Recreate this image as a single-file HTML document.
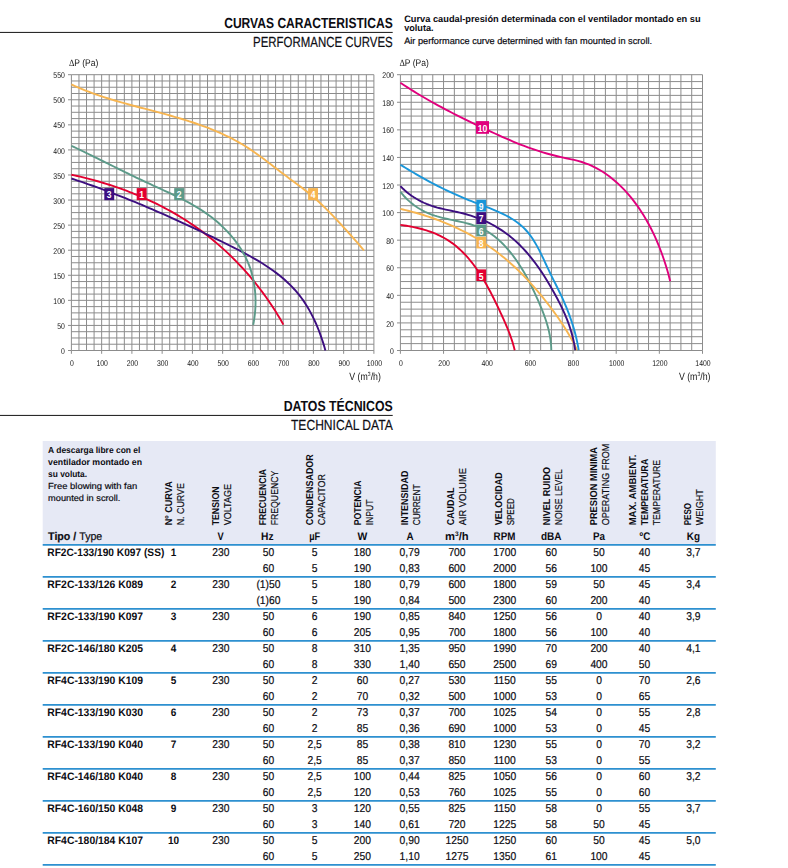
<!DOCTYPE html>
<html lang="es">
<head>
<meta charset="utf-8">
<title>Curvas caracteristicas / Datos tecnicos</title>
<style>
html,body{margin:0;padding:0;background:#fff;}
body{width:788px;height:868px;overflow:hidden;}
svg{display:block;font-family:"Liberation Sans",sans-serif;fill:#0c0c12;text-rendering:geometricPrecision;}
text{stroke:#0c0c12;stroke-width:0.2px;}
text[font-weight="bold"]{stroke:none;}
.ax{filter:grayscale(1);}
.ax text{stroke:none;fill:#141414;}
text[fill="#ffffff"]{stroke:none;}
</style>
</head>
<body>
<svg width="788" height="868" viewBox="0 0 788 868">
<text x="392.70" y="27.90" font-size="14.6" textLength="168.50" lengthAdjust="spacingAndGlyphs" text-anchor="end" font-weight="bold">CURVAS CARACTERISTICAS</text>
<rect x="0" y="31.9" width="392.7" height="1.1" fill="#2a2a2a"/>
<text x="392.70" y="47.20" font-size="14.6" textLength="139.60" lengthAdjust="spacingAndGlyphs" text-anchor="end">PERFORMANCE CURVES</text>
<text x="404.20" y="21.80" font-size="9.3" textLength="296.40" lengthAdjust="spacingAndGlyphs" font-weight="bold">Curva caudal-presión determinada con el ventilador montado en su</text>
<text x="404.20" y="30.50" font-size="9.3" textLength="29.40" lengthAdjust="spacingAndGlyphs" font-weight="bold">voluta.</text>
<text x="404.20" y="43.60" font-size="9.3" textLength="247.90" lengthAdjust="spacingAndGlyphs">Air performance curve determined with fan mounted in scroll.</text>
<g class="ax" opacity="0.999">
<path d="M71.40 74.70V350.50M78.96 74.70V350.50M86.53 74.70V350.50M94.09 74.70V350.50M101.65 74.70V350.50M109.21 74.70V350.50M116.78 74.70V350.50M124.34 74.70V350.50M131.90 74.70V350.50M139.46 74.70V350.50M147.03 74.70V350.50M154.59 74.70V350.50M162.15 74.70V350.50M169.71 74.70V350.50M177.28 74.70V350.50M184.84 74.70V350.50M192.40 74.70V350.50M199.96 74.70V350.50M207.53 74.70V350.50M215.09 74.70V350.50M222.65 74.70V350.50M230.21 74.70V350.50M237.78 74.70V350.50M245.34 74.70V350.50M252.90 74.70V350.50M260.46 74.70V350.50M268.02 74.70V350.50M275.59 74.70V350.50M283.15 74.70V350.50M290.71 74.70V350.50M298.27 74.70V350.50M305.84 74.70V350.50M313.40 74.70V350.50M320.96 74.70V350.50M328.52 74.70V350.50M336.09 74.70V350.50M343.65 74.70V350.50M351.21 74.70V350.50M358.77 74.70V350.50M366.34 74.70V350.50M373.90 74.70V350.50M71.40 74.70H373.90M71.40 80.97H373.90M71.40 87.24H373.90M71.40 93.50H373.90M71.40 99.77H373.90M71.40 106.04H373.90M71.40 112.31H373.90M71.40 118.58H373.90M71.40 124.85H373.90M71.40 131.11H373.90M71.40 137.38H373.90M71.40 143.65H373.90M71.40 149.92H373.90M71.40 156.19H373.90M71.40 162.45H373.90M71.40 168.72H373.90M71.40 174.99H373.90M71.40 181.26H373.90M71.40 187.53H373.90M71.40 193.80H373.90M71.40 200.06H373.90M71.40 206.33H373.90M71.40 212.60H373.90M71.40 218.87H373.90M71.40 225.14H373.90M71.40 231.40H373.90M71.40 237.67H373.90M71.40 243.94H373.90M71.40 250.21H373.90M71.40 256.48H373.90M71.40 262.75H373.90M71.40 269.01H373.90M71.40 275.28H373.90M71.40 281.55H373.90M71.40 287.82H373.90M71.40 294.09H373.90M71.40 300.35H373.90M71.40 306.62H373.90M71.40 312.89H373.90M71.40 319.16H373.90M71.40 325.43H373.90M71.40 331.70H373.90M71.40 337.96H373.90M71.40 344.23H373.90M71.40 350.50H373.90M71.40 350.50v3.3M101.65 350.50v3.3M131.90 350.50v3.3M162.15 350.50v3.3M192.40 350.50v3.3M222.65 350.50v3.3M252.90 350.50v3.3M283.15 350.50v3.3M313.40 350.50v3.3M343.65 350.50v3.3M373.90 350.50v3.3M71.40 74.70h-3.4M71.40 99.77h-3.4M71.40 124.85h-3.4M71.40 149.92h-3.4M71.40 174.99h-3.4M71.40 200.06h-3.4M71.40 225.14h-3.4M71.40 250.21h-3.4M71.40 275.28h-3.4M71.40 300.35h-3.4M71.40 325.43h-3.4M71.40 350.50h-3.4" stroke="#8c8c8c" stroke-width="1" fill="none"/>
<text x="71.90" y="365.90" font-size="8.4" textLength="3.83" lengthAdjust="spacingAndGlyphs" text-anchor="middle">0</text>
<text x="102.15" y="365.90" font-size="8.4" textLength="11.49" lengthAdjust="spacingAndGlyphs" text-anchor="middle">100</text>
<text x="132.40" y="365.90" font-size="8.4" textLength="11.49" lengthAdjust="spacingAndGlyphs" text-anchor="middle">200</text>
<text x="162.65" y="365.90" font-size="8.4" textLength="11.49" lengthAdjust="spacingAndGlyphs" text-anchor="middle">300</text>
<text x="192.90" y="365.90" font-size="8.4" textLength="11.49" lengthAdjust="spacingAndGlyphs" text-anchor="middle">400</text>
<text x="223.15" y="365.90" font-size="8.4" textLength="11.49" lengthAdjust="spacingAndGlyphs" text-anchor="middle">500</text>
<text x="253.40" y="365.90" font-size="8.4" textLength="11.49" lengthAdjust="spacingAndGlyphs" text-anchor="middle">600</text>
<text x="283.65" y="365.90" font-size="8.4" textLength="11.49" lengthAdjust="spacingAndGlyphs" text-anchor="middle">700</text>
<text x="313.90" y="365.90" font-size="8.4" textLength="11.49" lengthAdjust="spacingAndGlyphs" text-anchor="middle">800</text>
<text x="344.15" y="365.90" font-size="8.4" textLength="11.49" lengthAdjust="spacingAndGlyphs" text-anchor="middle">900</text>
<text x="374.40" y="365.90" font-size="8.4" textLength="15.32" lengthAdjust="spacingAndGlyphs" text-anchor="middle">1000</text>
<text x="64.80" y="354.10" font-size="8.4" textLength="3.83" lengthAdjust="spacingAndGlyphs" text-anchor="end">0</text>
<text x="64.80" y="329.03" font-size="8.4" textLength="7.66" lengthAdjust="spacingAndGlyphs" text-anchor="end">50</text>
<text x="64.80" y="303.95" font-size="8.4" textLength="11.49" lengthAdjust="spacingAndGlyphs" text-anchor="end">100</text>
<text x="64.80" y="278.88" font-size="8.4" textLength="11.49" lengthAdjust="spacingAndGlyphs" text-anchor="end">150</text>
<text x="64.80" y="253.81" font-size="8.4" textLength="11.49" lengthAdjust="spacingAndGlyphs" text-anchor="end">200</text>
<text x="64.80" y="228.74" font-size="8.4" textLength="11.49" lengthAdjust="spacingAndGlyphs" text-anchor="end">250</text>
<text x="64.80" y="203.66" font-size="8.4" textLength="11.49" lengthAdjust="spacingAndGlyphs" text-anchor="end">300</text>
<text x="64.80" y="178.59" font-size="8.4" textLength="11.49" lengthAdjust="spacingAndGlyphs" text-anchor="end">350</text>
<text x="64.80" y="153.52" font-size="8.4" textLength="11.49" lengthAdjust="spacingAndGlyphs" text-anchor="end">400</text>
<text x="64.80" y="128.45" font-size="8.4" textLength="11.49" lengthAdjust="spacingAndGlyphs" text-anchor="end">450</text>
<text x="64.80" y="103.37" font-size="8.4" textLength="11.49" lengthAdjust="spacingAndGlyphs" text-anchor="end">500</text>
<text x="64.80" y="78.30" font-size="8.4" textLength="11.49" lengthAdjust="spacingAndGlyphs" text-anchor="end">550</text>
<path d="M400.40 74.70V350.50M411.19 74.70V350.50M421.98 74.70V350.50M432.77 74.70V350.50M443.56 74.70V350.50M454.35 74.70V350.50M465.14 74.70V350.50M475.92 74.70V350.50M486.71 74.70V350.50M497.50 74.70V350.50M508.29 74.70V350.50M519.08 74.70V350.50M529.87 74.70V350.50M540.66 74.70V350.50M551.45 74.70V350.50M562.24 74.70V350.50M573.03 74.70V350.50M583.82 74.70V350.50M594.61 74.70V350.50M605.40 74.70V350.50M616.19 74.70V350.50M626.98 74.70V350.50M637.76 74.70V350.50M648.55 74.70V350.50M659.34 74.70V350.50M670.13 74.70V350.50M680.92 74.70V350.50M691.71 74.70V350.50M702.50 74.70V350.50M400.40 74.70H702.50M400.40 81.59H702.50M400.40 88.49H702.50M400.40 95.39H702.50M400.40 102.28H702.50M400.40 109.18H702.50M400.40 116.07H702.50M400.40 122.97H702.50M400.40 129.86H702.50M400.40 136.75H702.50M400.40 143.65H702.50M400.40 150.55H702.50M400.40 157.44H702.50M400.40 164.34H702.50M400.40 171.23H702.50M400.40 178.12H702.50M400.40 185.02H702.50M400.40 191.92H702.50M400.40 198.81H702.50M400.40 205.70H702.50M400.40 212.60H702.50M400.40 219.50H702.50M400.40 226.39H702.50M400.40 233.29H702.50M400.40 240.18H702.50M400.40 247.07H702.50M400.40 253.97H702.50M400.40 260.87H702.50M400.40 267.76H702.50M400.40 274.66H702.50M400.40 281.55H702.50M400.40 288.45H702.50M400.40 295.34H702.50M400.40 302.24H702.50M400.40 309.13H702.50M400.40 316.02H702.50M400.40 322.92H702.50M400.40 329.81H702.50M400.40 336.71H702.50M400.40 343.61H702.50M400.40 350.50H702.50M400.40 350.50v3.3M443.56 350.50v3.3M486.71 350.50v3.3M529.87 350.50v3.3M573.03 350.50v3.3M616.19 350.50v3.3M659.34 350.50v3.3M702.50 350.50v3.3M400.40 74.70h-3.4M400.40 102.28h-3.4M400.40 129.86h-3.4M400.40 157.44h-3.4M400.40 185.02h-3.4M400.40 212.60h-3.4M400.40 240.18h-3.4M400.40 267.76h-3.4M400.40 295.34h-3.4M400.40 322.92h-3.4M400.40 350.50h-3.4" stroke="#8c8c8c" stroke-width="1" fill="none"/>
<text x="400.90" y="365.90" font-size="8.4" textLength="3.83" lengthAdjust="spacingAndGlyphs" text-anchor="middle">0</text>
<text x="444.06" y="365.90" font-size="8.4" textLength="11.49" lengthAdjust="spacingAndGlyphs" text-anchor="middle">200</text>
<text x="487.21" y="365.90" font-size="8.4" textLength="11.49" lengthAdjust="spacingAndGlyphs" text-anchor="middle">400</text>
<text x="530.37" y="365.90" font-size="8.4" textLength="11.49" lengthAdjust="spacingAndGlyphs" text-anchor="middle">600</text>
<text x="573.53" y="365.90" font-size="8.4" textLength="11.49" lengthAdjust="spacingAndGlyphs" text-anchor="middle">800</text>
<text x="616.69" y="365.90" font-size="8.4" textLength="15.32" lengthAdjust="spacingAndGlyphs" text-anchor="middle">1000</text>
<text x="659.84" y="365.90" font-size="8.4" textLength="15.32" lengthAdjust="spacingAndGlyphs" text-anchor="middle">1200</text>
<text x="703.00" y="365.90" font-size="8.4" textLength="15.32" lengthAdjust="spacingAndGlyphs" text-anchor="middle">1400</text>
<text x="393.80" y="354.10" font-size="8.4" textLength="3.83" lengthAdjust="spacingAndGlyphs" text-anchor="end">0</text>
<text x="393.80" y="326.52" font-size="8.4" textLength="7.66" lengthAdjust="spacingAndGlyphs" text-anchor="end">20</text>
<text x="393.80" y="298.94" font-size="8.4" textLength="7.66" lengthAdjust="spacingAndGlyphs" text-anchor="end">40</text>
<text x="393.80" y="271.36" font-size="8.4" textLength="7.66" lengthAdjust="spacingAndGlyphs" text-anchor="end">60</text>
<text x="393.80" y="243.78" font-size="8.4" textLength="7.66" lengthAdjust="spacingAndGlyphs" text-anchor="end">80</text>
<text x="393.80" y="216.20" font-size="8.4" textLength="11.49" lengthAdjust="spacingAndGlyphs" text-anchor="end">100</text>
<text x="393.80" y="188.62" font-size="8.4" textLength="11.49" lengthAdjust="spacingAndGlyphs" text-anchor="end">120</text>
<text x="393.80" y="161.04" font-size="8.4" textLength="11.49" lengthAdjust="spacingAndGlyphs" text-anchor="end">140</text>
<text x="393.80" y="133.46" font-size="8.4" textLength="11.49" lengthAdjust="spacingAndGlyphs" text-anchor="end">160</text>
<text x="393.80" y="105.88" font-size="8.4" textLength="11.49" lengthAdjust="spacingAndGlyphs" text-anchor="end">180</text>
<text x="393.80" y="78.30" font-size="8.4" textLength="11.49" lengthAdjust="spacingAndGlyphs" text-anchor="end">200</text>
<text x="68.90" y="65.8" font-size="9.6" textLength="29.4" lengthAdjust="spacingAndGlyphs"><tspan font-family="Liberation Serif, serif">Δ</tspan>P (Pa)</text>
<text x="399.40" y="65.8" font-size="9.6" textLength="29.4" lengthAdjust="spacingAndGlyphs"><tspan font-family="Liberation Serif, serif">Δ</tspan>P (Pa)</text>
<text x="349.30" y="379.8" font-size="10.4" textLength="31.6" lengthAdjust="spacingAndGlyphs">V (m<tspan font-size="6" dy="-3.8">3</tspan><tspan dy="3.8">/h)</tspan></text>
<text x="678.90" y="379.8" font-size="10.4" textLength="31.6" lengthAdjust="spacingAndGlyphs">V (m<tspan font-size="6" dy="-3.8">3</tspan><tspan dy="3.8">/h)</tspan></text>
</g>
<path d="M71.40 174.70L74.33 175.34 77.26 176.00 80.18 176.69 83.10 177.39 86.02 178.12 88.93 178.87 91.84 179.65 94.75 180.44 97.65 181.26 100.55 182.11 103.44 182.97 106.32 183.86 109.20 184.77 112.07 185.71 114.93 186.66 117.79 187.65 120.64 188.65 123.48 189.68 126.31 190.73 129.13 191.81 131.94 192.91 134.74 194.04 137.54 195.19 140.32 196.36 143.09 197.56 145.85 198.78 148.60 200.03 151.33 201.31 154.05 202.60 156.76 203.93 159.46 205.27 162.14 206.65 164.81 208.05 167.46 209.47 170.10 210.92 172.72 212.40 175.33 213.90 177.92 215.42 180.50 216.98 183.06 218.56 185.60 220.16 188.12 221.79 190.63 223.45 193.11 225.13 195.58 226.85 198.03 228.58 200.46 230.34 202.87 232.13 205.27 233.95 207.64 235.79 209.99 237.65 212.33 239.54 214.64 241.45 216.94 243.39 219.21 245.35 221.46 247.34 223.70 249.34 225.91 251.38 228.10 253.43 230.27 255.51 232.42 257.61 234.55 259.73 236.66 261.88 238.74 264.04 240.80 266.23 242.85 268.44 244.87 270.67 246.86 272.92 248.84 275.19 250.79 277.49 252.72 279.80 254.63 282.13 256.51 284.48 258.37 286.86 260.21 289.25 262.02 291.66 263.81 294.09 265.58 296.53 267.32 299.00 269.04 301.48 270.73 303.99 272.40 306.51 274.05 309.04 275.67 311.60 277.26 314.17 278.83 316.75 280.38 319.36 281.90 321.98 283.39 324.61" stroke="#e30030" stroke-width="1.9" fill="none"/>
<path d="M71.40 178.48L74.83 179.62 78.26 180.78 81.67 181.94 85.08 183.12 88.48 184.31 91.88 185.51 95.26 186.73 98.64 187.96 102.01 189.20 105.38 190.45 108.74 191.71 112.09 192.99 115.43 194.27 118.77 195.57 122.11 196.88 125.43 198.21 128.75 199.54 132.07 200.88 135.38 202.24 138.69 203.60 141.99 204.98 145.29 206.37 148.58 207.76 151.87 209.17 155.16 210.59 158.44 212.02 161.72 213.45 164.99 214.90 168.26 216.36 171.53 217.83 174.80 219.30 178.06 220.79 181.32 222.28 184.58 223.79 187.84 225.30 191.09 226.82 194.34 228.35 197.60 229.89 200.85 231.44 204.10 232.99 207.35 234.56 210.59 236.13 213.84 237.71 217.09 239.30 220.34 240.89 223.58 242.50 226.83 244.11 230.08 245.73 233.32 247.36 236.56 249.00 239.78 250.66 242.99 252.35 246.19 254.05 249.36 255.79 252.52 257.55 255.64 259.35 258.74 261.18 261.80 263.06 264.82 264.97 267.80 266.93 270.75 268.94 273.64 271.00 276.48 273.12 279.28 275.29 282.01 277.53 284.69 279.83 287.30 282.20 289.84 284.63 292.32 287.14 294.73 289.73 297.05 292.40 299.30 295.15 301.47 297.98 303.55 300.91 305.54 303.91 307.45 306.99 309.28 310.14 311.03 313.34 312.71 316.60 314.30 319.90 315.82 323.24 317.26 326.61 318.63 330.00 319.93 333.41 321.15 336.82 322.31 340.24 323.40 343.64 324.43 347.04 325.39 350.40" stroke="#3d0f80" stroke-width="1.9" fill="none"/>
<path d="M71.40 145.79L74.26 147.15 77.12 148.51 79.96 149.88 82.80 151.25 85.64 152.63 88.46 154.01 91.28 155.39 94.10 156.78 96.91 158.17 99.72 159.56 102.52 160.95 105.32 162.34 108.13 163.73 110.93 165.12 113.73 166.51 116.53 167.90 119.33 169.29 122.14 170.67 124.94 172.05 127.75 173.43 130.56 174.80 133.38 176.17 136.21 177.53 139.03 178.89 141.87 180.23 144.71 181.57 147.56 182.91 150.42 184.23 153.28 185.55 156.15 186.86 159.03 188.18 161.90 189.49 164.77 190.81 167.64 192.14 170.51 193.48 173.36 194.84 176.21 196.21 179.05 197.60 181.87 199.02 184.67 200.47 187.46 201.94 190.22 203.45 192.96 205.00 195.68 206.58 198.37 208.21 201.03 209.88 203.66 211.61 206.25 213.38 208.81 215.21 211.33 217.10 213.81 219.04 216.24 221.03 218.63 223.08 220.97 225.19 223.25 227.34 225.48 229.55 227.65 231.81 229.76 234.13 231.80 236.49 233.78 238.90 235.69 241.37 237.53 243.88 239.29 246.44 240.97 249.05 242.57 251.71 244.09 254.42 245.52 257.17 246.86 259.97 248.10 262.81 249.26 265.70 250.31 268.64 251.27 271.62 252.12 274.63 252.88 277.68 253.54 280.77 254.10 283.88 254.57 287.01 254.95 290.16 255.23 293.32 255.42 296.50 255.52 299.67 255.53 302.86 255.46 306.03 255.29 309.20 255.04 312.36 254.70 315.51 254.28 318.63 253.78 321.73 253.19 324.81" stroke="#5c9a89" stroke-width="1.9" fill="none"/>
<path d="M71.40 84.39L74.94 86.02 78.49 87.59 82.06 89.09 85.65 90.54 89.26 91.94 92.88 93.28 96.51 94.58 100.16 95.84 103.82 97.05 107.49 98.23 111.17 99.38 114.86 100.49 118.56 101.58 122.27 102.64 125.99 103.68 129.71 104.71 133.44 105.72 137.17 106.72 140.90 107.71 144.64 108.69 148.38 109.68 152.12 110.67 155.86 111.66 159.60 112.66 163.33 113.67 167.07 114.70 170.80 115.74 174.52 116.81 178.24 117.89 181.94 119.00 185.64 120.14 189.32 121.31 192.99 122.52 196.65 123.76 200.29 125.04 203.91 126.35 207.52 127.72 211.10 129.12 214.66 130.58 218.19 132.09 221.70 133.65 225.18 135.27 228.64 136.95 232.06 138.69 235.45 140.49 238.81 142.36 242.14 144.30 245.43 146.31 248.68 148.40 251.90 150.54 255.10 152.74 258.26 154.98 261.41 157.27 264.54 159.59 267.65 161.93 270.75 164.29 273.84 166.66 276.93 169.04 280.01 171.41 283.09 173.77 286.18 176.11 289.27 178.43 292.38 180.72 295.48 182.99 298.58 185.26 301.65 187.55 304.70 189.87 307.71 192.24 310.67 194.67 313.59 197.16 316.47 199.71 319.31 202.31 322.12 204.95 324.90 207.64 327.64 210.37 330.36 213.13 333.05 215.92 335.72 218.74 338.37 221.57 341.00 224.43 343.62 227.30 346.22 230.18 348.81 233.06 351.38 235.95 353.95 238.84 356.50 241.73 359.03 244.63 361.53 247.55 364.00 250.50" stroke="#f7b550" stroke-width="1.9" fill="none"/>
<path d="M400.40 82.80L403.73 84.99 407.07 87.16 410.44 89.29 413.82 91.39 417.21 93.47 420.62 95.51 424.05 97.52 427.49 99.51 430.94 101.47 434.41 103.41 437.89 105.32 441.38 107.21 444.88 109.08 448.40 110.93 451.93 112.75 455.46 114.56 459.01 116.35 462.57 118.13 466.13 119.88 469.70 121.63 473.28 123.35 476.87 125.07 480.47 126.78 484.07 128.47 487.67 130.15 491.29 131.83 494.90 133.49 498.53 135.14 502.16 136.77 505.80 138.38 509.45 139.96 513.11 141.52 516.78 143.03 520.47 144.51 524.16 145.95 527.88 147.33 531.61 148.67 535.36 149.96 539.12 151.18 542.91 152.35 546.72 153.47 550.55 154.53 554.41 155.54 558.30 156.49 562.21 157.39 566.16 158.24 570.12 159.07 574.07 159.94 577.98 160.90 581.81 162.01 585.56 163.29 589.23 164.74 592.82 166.34 596.32 168.10 599.74 170.00 603.07 172.04 606.33 174.21 609.50 176.51 612.59 178.93 615.60 181.46 618.53 184.10 621.38 186.84 624.15 189.68 626.84 192.60 629.44 195.61 631.97 198.69 634.42 201.85 636.79 205.07 639.08 208.34 641.30 211.67 643.43 215.05 645.49 218.48 647.48 221.95 649.40 225.46 651.24 229.01 653.01 232.60 654.71 236.22 656.35 239.87 657.92 243.54 659.42 247.24 660.86 250.97 662.24 254.71 663.55 258.47 664.80 262.24 666.00 266.02 667.14 269.81 668.22 273.60 669.24 277.40 670.21 281.19" stroke="#e0007d" stroke-width="1.9" fill="none"/>
<path d="M400.40 224.91L402.41 225.18 404.43 225.47 406.45 225.79 408.48 226.13 410.50 226.49 412.52 226.89 414.53 227.31 416.54 227.75 418.55 228.23 420.54 228.74 422.53 229.27 424.51 229.84 426.47 230.44 428.42 231.08 430.35 231.75 432.27 232.46 434.17 233.20 436.05 233.99 437.91 234.81 439.74 235.67 441.56 236.57 443.34 237.52 445.10 238.50 446.83 239.53 448.53 240.61 450.20 241.72 451.85 242.88 453.46 244.08 455.05 245.32 456.60 246.59 458.13 247.91 459.63 249.25 461.11 250.63 462.56 252.04 463.98 253.48 465.37 254.94 466.74 256.44 468.08 257.96 469.40 259.50 470.70 261.07 471.97 262.65 473.21 264.26 474.43 265.89 475.63 267.53 476.81 269.19 477.97 270.87 479.10 272.57 480.22 274.28 481.32 276.00 482.40 277.74 483.46 279.49 484.50 281.26 485.53 283.03 486.54 284.82 487.54 286.61 488.53 288.42 489.50 290.23 490.46 292.05 491.40 293.87 492.34 295.71 493.26 297.54 494.18 299.38 495.08 301.23 495.98 303.08 496.87 304.92 497.76 306.77 498.63 308.62 499.50 310.47 500.37 312.32 501.23 314.17 502.09 316.01 502.93 317.86 503.77 319.71 504.59 321.56 505.40 323.41 506.20 325.27 506.99 327.13 507.75 329.00 508.50 330.88 509.23 332.76 509.94 334.65 510.63 336.56 511.29 338.47 511.93 340.39 512.54 342.32 513.13 344.27 513.69 346.23 514.21 348.21 514.71 350.20" stroke="#e30030" stroke-width="1.9" fill="none"/>
<path d="M400.40 191.79L402.14 193.94 403.95 196.00 405.81 197.97 407.74 199.85 409.72 201.64 411.75 203.35 413.84 204.97 415.98 206.50 418.17 207.94 420.41 209.30 422.70 210.57 425.03 211.76 427.40 212.86 429.82 213.88 432.27 214.82 434.77 215.68 437.29 216.46 439.84 217.17 442.42 217.83 445.02 218.45 447.64 219.04 450.26 219.60 452.90 220.15 455.53 220.70 458.17 221.25 460.79 221.83 463.41 222.44 466.00 223.08 468.58 223.78 471.13 224.52 473.66 225.33 476.15 226.20 478.60 227.15 481.01 228.18 483.37 229.29 485.68 230.50 487.94 231.81 490.13 233.21 492.28 234.70 494.37 236.28 496.41 237.93 498.40 239.65 500.34 241.44 502.23 243.28 504.08 245.16 505.88 247.09 507.64 249.07 509.36 251.08 511.04 253.13 512.67 255.22 514.27 257.35 515.83 259.51 517.36 261.70 518.84 263.92 520.30 266.17 521.72 268.44 523.11 270.73 524.46 273.05 525.79 275.39 527.09 277.75 528.36 280.12 529.60 282.51 530.82 284.91 532.01 287.32 533.18 289.74 534.32 292.17 535.45 294.60 536.55 297.04 537.64 299.47 538.71 301.91 539.75 304.34 540.78 306.78 541.78 309.22 542.75 311.66 543.69 314.11 544.59 316.57 545.45 319.04 546.27 321.52 547.03 324.01 547.75 326.53 548.41 329.06 549.02 331.61 549.56 334.18 550.04 336.78 550.44 339.40 550.78 342.06 551.03 344.74 551.21 347.45 551.30 350.20" stroke="#5c9a89" stroke-width="1.9" fill="none"/>
<path d="M400.40 208.90L402.97 209.49 405.53 210.10 408.09 210.73 410.64 211.39 413.19 212.07 415.73 212.77 418.27 213.50 420.79 214.25 423.32 215.03 425.83 215.83 428.34 216.65 430.84 217.50 433.33 218.37 435.81 219.26 438.28 220.18 440.74 221.13 443.20 222.10 445.64 223.09 448.07 224.11 450.49 225.15 452.90 226.22 455.29 227.31 457.68 228.43 460.05 229.57 462.41 230.74 464.75 231.94 467.08 233.15 469.40 234.40 471.70 235.67 473.99 236.96 476.26 238.28 478.51 239.63 480.75 241.00 482.97 242.40 485.18 243.82 487.37 245.27 489.54 246.74 491.69 248.24 493.82 249.77 495.94 251.33 498.03 252.91 500.11 254.51 502.16 256.15 504.20 257.80 506.22 259.49 508.22 261.19 510.20 262.92 512.16 264.68 514.10 266.45 516.03 268.25 517.93 270.07 519.82 271.90 521.69 273.76 523.54 275.64 525.38 277.54 527.20 279.45 529.00 281.39 530.78 283.34 532.55 285.30 534.30 287.28 536.03 289.28 537.75 291.29 539.45 293.32 541.14 295.36 542.81 297.41 544.46 299.47 546.10 301.55 547.72 303.63 549.33 305.73 550.93 307.84 552.51 309.95 554.07 312.08 555.61 314.22 557.13 316.37 558.64 318.54 560.12 320.71 561.59 322.90 563.03 325.10 564.45 327.31 565.84 329.53 567.21 331.77 568.56 334.02 569.88 336.29 571.17 338.57 572.44 340.86 573.68 343.17 574.89 345.50 576.07 347.84 577.21 350.19" stroke="#f7b550" stroke-width="1.9" fill="none"/>
<path d="M400.40 186.19L402.51 188.29 404.68 190.29 406.90 192.19 409.18 193.99 411.51 195.69 413.90 197.30 416.33 198.80 418.80 200.21 421.33 201.53 423.89 202.76 426.49 203.89 429.14 204.94 431.81 205.89 434.53 206.76 437.27 207.55 440.04 208.28 442.83 208.95 445.64 209.58 448.46 210.19 451.29 210.78 454.12 211.37 456.95 211.98 459.77 212.61 462.59 213.29 465.38 214.02 468.16 214.80 470.92 215.65 473.65 216.55 476.36 217.52 479.05 218.54 481.71 219.62 484.35 220.76 486.95 221.96 489.52 223.22 492.06 224.53 494.57 225.91 497.04 227.34 499.47 228.83 501.87 230.37 504.22 231.98 506.53 233.64 508.80 235.36 511.02 237.14 513.20 238.98 515.34 240.86 517.44 242.80 519.50 244.78 521.51 246.81 523.49 248.88 525.43 251.00 527.34 253.16 529.20 255.35 531.03 257.59 532.83 259.85 534.59 262.15 536.32 264.47 538.02 266.83 539.68 269.21 541.32 271.61 542.92 274.04 544.50 276.49 546.05 278.95 547.57 281.43 549.06 283.92 550.53 286.42 551.97 288.94 553.39 291.46 554.79 293.98 556.16 296.51 557.51 299.05 558.83 301.59 560.12 304.14 561.37 306.70 562.60 309.27 563.78 311.85 564.93 314.45 566.03 317.06 567.10 319.69 568.11 322.34 569.08 325.01 569.99 327.70 570.85 330.42 571.66 333.16 572.41 335.92 573.10 338.72 573.72 341.54 574.28 344.39 574.78 347.28 575.20 350.20" stroke="#3d0f80" stroke-width="1.9" fill="none"/>
<path d="M400.40 164.70L403.07 166.35 405.74 167.99 408.41 169.60 411.08 171.20 413.75 172.77 416.41 174.33 419.08 175.86 421.75 177.38 424.43 178.87 427.11 180.35 429.79 181.80 432.49 183.24 435.19 184.65 437.90 186.05 440.61 187.42 443.34 188.77 446.09 190.11 448.84 191.42 451.61 192.71 454.39 193.98 457.19 195.24 460.01 196.47 462.84 197.68 465.70 198.87 468.57 200.04 471.47 201.19 474.38 202.32 477.31 203.44 480.25 204.55 483.19 205.67 486.13 206.79 489.06 207.93 491.97 209.09 494.85 210.28 497.71 211.51 500.53 212.78 503.31 214.11 506.04 215.49 508.71 216.94 511.33 218.46 513.87 220.06 516.34 221.75 518.73 223.53 521.03 225.42 523.24 227.41 525.35 229.52 527.35 231.74 529.25 234.08 531.07 236.52 532.80 239.05 534.46 241.67 536.04 244.35 537.57 247.09 539.05 249.89 540.49 252.72 541.88 255.58 543.26 258.46 544.61 261.35 545.95 264.23 547.29 267.10 548.63 269.95 549.98 272.76 551.34 275.55 552.70 278.31 554.06 281.06 555.43 283.79 556.78 286.51 558.12 289.24 559.45 291.96 560.76 294.70 562.05 297.45 563.31 300.21 564.54 303.01 565.74 305.82 566.90 308.66 568.03 311.53 569.12 314.41 570.17 317.31 571.18 320.24 572.15 323.18 573.08 326.13 573.96 329.10 574.79 332.09 575.57 335.08 576.31 338.09 576.99 341.11 577.61 344.13 578.18 347.16 578.70 350.20" stroke="#1a96d9" stroke-width="1.9" fill="none"/>
<rect x="104.30" y="188.10" width="9.90" height="12.10" fill="#3d0f80"/>
<text x="109.25" y="198.45" font-size="10.2" textLength="4.77" lengthAdjust="spacingAndGlyphs" text-anchor="middle" font-weight="bold" fill="#ffffff">3</text>
<rect x="136.70" y="188.10" width="9.90" height="12.10" fill="#e30030"/>
<text x="141.65" y="198.45" font-size="10.2" textLength="4.77" lengthAdjust="spacingAndGlyphs" text-anchor="middle" font-weight="bold" fill="#ffffff">1</text>
<rect x="174.20" y="188.10" width="9.90" height="12.10" fill="#5c9a89"/>
<text x="179.15" y="198.45" font-size="10.2" textLength="4.77" lengthAdjust="spacingAndGlyphs" text-anchor="middle" font-weight="bold" fill="#ffffff">2</text>
<rect x="308.10" y="188.10" width="9.90" height="12.10" fill="#f7b550"/>
<text x="313.05" y="198.45" font-size="10.2" textLength="4.77" lengthAdjust="spacingAndGlyphs" text-anchor="middle" font-weight="bold" fill="#ffffff">4</text>
<rect x="476.00" y="121.10" width="13.00" height="12.70" fill="#e0007d"/>
<text x="482.50" y="131.75" font-size="10.2" textLength="9.53" lengthAdjust="spacingAndGlyphs" text-anchor="middle" font-weight="bold" fill="#ffffff">10</text>
<rect x="476.30" y="199.70" width="9.80" height="11.90" fill="#1a96d9"/>
<text x="481.20" y="209.95" font-size="10.2" textLength="4.77" lengthAdjust="spacingAndGlyphs" text-anchor="middle" font-weight="bold" fill="#ffffff">9</text>
<rect x="476.30" y="212.20" width="9.80" height="11.90" fill="#3d0f80"/>
<text x="481.20" y="222.45" font-size="10.2" textLength="4.77" lengthAdjust="spacingAndGlyphs" text-anchor="middle" font-weight="bold" fill="#ffffff">7</text>
<rect x="476.30" y="224.50" width="9.80" height="11.90" fill="#5c9a89"/>
<text x="481.20" y="234.75" font-size="10.2" textLength="4.77" lengthAdjust="spacingAndGlyphs" text-anchor="middle" font-weight="bold" fill="#ffffff">6</text>
<rect x="476.30" y="236.80" width="9.80" height="11.60" fill="#f7b550"/>
<text x="481.20" y="246.90" font-size="10.2" textLength="4.77" lengthAdjust="spacingAndGlyphs" text-anchor="middle" font-weight="bold" fill="#ffffff">8</text>
<rect x="476.30" y="269.40" width="9.80" height="11.60" fill="#e30030"/>
<text x="481.20" y="279.50" font-size="10.2" textLength="4.77" lengthAdjust="spacingAndGlyphs" text-anchor="middle" font-weight="bold" fill="#ffffff">5</text>
<text x="392.70" y="411.10" font-size="14.6" textLength="109.00" lengthAdjust="spacingAndGlyphs" text-anchor="end" font-weight="bold">DATOS TÉCNICOS</text>
<rect x="0" y="414.9" width="392.7" height="1.1" fill="#2a2a2a"/>
<text x="392.70" y="430.20" font-size="14.6" textLength="101.70" lengthAdjust="spacingAndGlyphs" text-anchor="end">TECHNICAL DATA</text>
<rect x="42.7" y="441" width="673.10" height="103.5" fill="#e6e9f5"/>
<text x="48.10" y="453.20" font-size="8.8" textLength="92.30" lengthAdjust="spacingAndGlyphs" font-weight="bold">A descarga libre con el</text>
<text x="48.10" y="464.90" font-size="8.8" textLength="93.90" lengthAdjust="spacingAndGlyphs" font-weight="bold">ventilador montado en</text>
<text x="48.10" y="476.60" font-size="8.8" textLength="39.00" lengthAdjust="spacingAndGlyphs" font-weight="bold">su voluta.</text>
<text x="48.10" y="489.00" font-size="8.8" textLength="89.10" lengthAdjust="spacingAndGlyphs">Free blowing with fan</text>
<text x="48.10" y="500.60" font-size="8.8" textLength="72.30" lengthAdjust="spacingAndGlyphs">mounted in scroll.</text>
<text x="48.1" y="539.6" font-size="11.1" textLength="54.2" lengthAdjust="spacingAndGlyphs"><tspan font-weight="bold">Tipo / </tspan>Type</text>
<text transform="translate(171.70 525.30) rotate(-90)" font-size="10" textLength="44.10" lengthAdjust="spacingAndGlyphs" font-weight="bold">Nº CURVA</text>
<text transform="translate(184.10 525.30) rotate(-90)" font-size="10" textLength="42.10" lengthAdjust="spacingAndGlyphs">N. CURVE</text>
<text transform="translate(219.30 525.30) rotate(-90)" font-size="10" textLength="38.80" lengthAdjust="spacingAndGlyphs" font-weight="bold">TENSION</text>
<text transform="translate(231.40 525.30) rotate(-90)" font-size="10" textLength="41.20" lengthAdjust="spacingAndGlyphs">VOLTAGE</text>
<text transform="translate(265.80 525.30) rotate(-90)" font-size="10" textLength="56.30" lengthAdjust="spacingAndGlyphs" font-weight="bold">FRECUENCIA</text>
<text transform="translate(277.60 525.30) rotate(-90)" font-size="10" textLength="54.60" lengthAdjust="spacingAndGlyphs">FREQUENCY</text>
<text transform="translate(312.70 525.30) rotate(-90)" font-size="10" textLength="71.10" lengthAdjust="spacingAndGlyphs" font-weight="bold">CONDENSADOR</text>
<text transform="translate(324.60 525.30) rotate(-90)" font-size="10" textLength="51.20" lengthAdjust="spacingAndGlyphs">CAPACITOR</text>
<text transform="translate(361.10 525.30) rotate(-90)" font-size="10" textLength="44.80" lengthAdjust="spacingAndGlyphs" font-weight="bold">POTENCIA</text>
<text transform="translate(373.00 525.30) rotate(-90)" font-size="10" textLength="25.80" lengthAdjust="spacingAndGlyphs">INPUT</text>
<text transform="translate(407.80 525.30) rotate(-90)" font-size="10" textLength="54.70" lengthAdjust="spacingAndGlyphs" font-weight="bold">INTENSIDAD</text>
<text transform="translate(419.70 525.30) rotate(-90)" font-size="10" textLength="40.90" lengthAdjust="spacingAndGlyphs">CURRENT</text>
<text transform="translate(454.00 525.30) rotate(-90)" font-size="10" textLength="37.70" lengthAdjust="spacingAndGlyphs" font-weight="bold">CAUDAL</text>
<text transform="translate(466.40 525.30) rotate(-90)" font-size="10" textLength="57.20" lengthAdjust="spacingAndGlyphs">AIR VOLUME</text>
<text transform="translate(502.30 525.30) rotate(-90)" font-size="10" textLength="53.00" lengthAdjust="spacingAndGlyphs" font-weight="bold">VELOCIDAD</text>
<text transform="translate(514.40 525.30) rotate(-90)" font-size="10" textLength="27.00" lengthAdjust="spacingAndGlyphs">SPEED</text>
<text transform="translate(549.90 525.30) rotate(-90)" font-size="10" textLength="58.30" lengthAdjust="spacingAndGlyphs" font-weight="bold">NIVEL RUIDO</text>
<text transform="translate(562.00 525.30) rotate(-90)" font-size="10" textLength="56.00" lengthAdjust="spacingAndGlyphs">NOISE LEVEL</text>
<text transform="translate(596.80 525.30) rotate(-90)" font-size="10" textLength="78.20" lengthAdjust="spacingAndGlyphs" font-weight="bold">PRESION MINIMA</text>
<text transform="translate(609.00 525.30) rotate(-90)" font-size="10" textLength="81.60" lengthAdjust="spacingAndGlyphs">OPERATING FROM</text>
<text transform="translate(636.40 525.30) rotate(-90)" font-size="10" textLength="70.70" lengthAdjust="spacingAndGlyphs" font-weight="bold">MAX. AMBIENT.</text>
<text transform="translate(648.20 525.30) rotate(-90)" font-size="10" textLength="66.60" lengthAdjust="spacingAndGlyphs" font-weight="bold">TEMPERATURA</text>
<text transform="translate(660.40 525.30) rotate(-90)" font-size="10" textLength="65.40" lengthAdjust="spacingAndGlyphs">TEMPERATURE</text>
<text transform="translate(690.80 525.30) rotate(-90)" font-size="10" textLength="22.40" lengthAdjust="spacingAndGlyphs" font-weight="bold">PESO</text>
<text transform="translate(703.40 525.30) rotate(-90)" font-size="10" textLength="36.00" lengthAdjust="spacingAndGlyphs">WEIGHT</text>
<text x="217.50" y="539.60" font-size="11.1" textLength="6.20" lengthAdjust="spacingAndGlyphs" font-weight="bold">V</text>
<text x="261.00" y="539.60" font-size="11.1" textLength="12.50" lengthAdjust="spacingAndGlyphs" font-weight="bold">Hz</text>
<text x="309.20" y="539.60" font-size="11.1" textLength="11.00" lengthAdjust="spacingAndGlyphs" font-weight="bold">µF</text>
<text x="357.50" y="539.60" font-size="11.1" textLength="9.80" lengthAdjust="spacingAndGlyphs" font-weight="bold">W</text>
<text x="406.40" y="539.60" font-size="11.1" textLength="7.10" lengthAdjust="spacingAndGlyphs" font-weight="bold">A</text>
<text x="493.60" y="539.60" font-size="11.1" textLength="21.70" lengthAdjust="spacingAndGlyphs" font-weight="bold">RPM</text>
<text x="541.00" y="539.60" font-size="11.1" textLength="20.50" lengthAdjust="spacingAndGlyphs" font-weight="bold">dBA</text>
<text x="592.90" y="539.60" font-size="11.1" textLength="12.00" lengthAdjust="spacingAndGlyphs" font-weight="bold">Pa</text>
<text x="639.60" y="539.60" font-size="11.1" textLength="10.60" lengthAdjust="spacingAndGlyphs" font-weight="bold">ºC</text>
<text x="686.80" y="539.60" font-size="11.1" textLength="13.20" lengthAdjust="spacingAndGlyphs" font-weight="bold">Kg</text>
<text x="445.1" y="539.6" font-size="11.1" font-weight="bold" textLength="23.6" lengthAdjust="spacingAndGlyphs">m<tspan font-size="6.5" dy="-3.6">3</tspan><tspan dy="3.6">/h</tspan></text>
<text x="47.30" y="555.90" font-size="10.9" textLength="117.01" lengthAdjust="spacingAndGlyphs" font-weight="bold">RF2C-133/190 K097 (SS)</text>
<text x="173.60" y="555.90" font-size="10.9" textLength="5.58" lengthAdjust="spacingAndGlyphs" text-anchor="middle" font-weight="bold">1</text>
<text x="220.80" y="555.90" font-size="11.4" textLength="17.19" lengthAdjust="spacingAndGlyphs" text-anchor="middle">230</text>
<text x="268.40" y="555.90" font-size="11.4" textLength="11.46" lengthAdjust="spacingAndGlyphs" text-anchor="middle">50</text>
<text x="268.40" y="571.90" font-size="11.4" textLength="11.46" lengthAdjust="spacingAndGlyphs" text-anchor="middle">60</text>
<text x="314.60" y="555.90" font-size="11.4" textLength="5.73" lengthAdjust="spacingAndGlyphs" text-anchor="middle">5</text>
<text x="314.60" y="571.90" font-size="11.4" textLength="5.73" lengthAdjust="spacingAndGlyphs" text-anchor="middle">5</text>
<text x="362.40" y="555.90" font-size="11.4" textLength="17.19" lengthAdjust="spacingAndGlyphs" text-anchor="middle">180</text>
<text x="362.40" y="571.90" font-size="11.4" textLength="17.19" lengthAdjust="spacingAndGlyphs" text-anchor="middle">190</text>
<text x="409.60" y="555.90" font-size="11.4" textLength="20.05" lengthAdjust="spacingAndGlyphs" text-anchor="middle">0,79</text>
<text x="409.60" y="571.90" font-size="11.4" textLength="20.05" lengthAdjust="spacingAndGlyphs" text-anchor="middle">0,83</text>
<text x="457.00" y="555.90" font-size="11.4" textLength="17.19" lengthAdjust="spacingAndGlyphs" text-anchor="middle">700</text>
<text x="457.00" y="571.90" font-size="11.4" textLength="17.19" lengthAdjust="spacingAndGlyphs" text-anchor="middle">600</text>
<text x="504.70" y="555.90" font-size="11.4" textLength="22.91" lengthAdjust="spacingAndGlyphs" text-anchor="middle">1700</text>
<text x="504.70" y="571.90" font-size="11.4" textLength="22.91" lengthAdjust="spacingAndGlyphs" text-anchor="middle">2000</text>
<text x="551.30" y="555.90" font-size="11.4" textLength="11.46" lengthAdjust="spacingAndGlyphs" text-anchor="middle">60</text>
<text x="551.30" y="571.90" font-size="11.4" textLength="11.46" lengthAdjust="spacingAndGlyphs" text-anchor="middle">56</text>
<text x="599.00" y="555.90" font-size="11.4" textLength="11.46" lengthAdjust="spacingAndGlyphs" text-anchor="middle">50</text>
<text x="599.00" y="571.90" font-size="11.4" textLength="17.19" lengthAdjust="spacingAndGlyphs" text-anchor="middle">100</text>
<text x="644.50" y="555.90" font-size="11.4" textLength="11.46" lengthAdjust="spacingAndGlyphs" text-anchor="middle">40</text>
<text x="644.50" y="571.90" font-size="11.4" textLength="11.46" lengthAdjust="spacingAndGlyphs" text-anchor="middle">45</text>
<text x="693.40" y="555.90" font-size="11.4" textLength="14.32" lengthAdjust="spacingAndGlyphs" text-anchor="middle">3,7</text>
<text x="47.30" y="587.90" font-size="10.9" textLength="95.72" lengthAdjust="spacingAndGlyphs" font-weight="bold">RF2C-133/126 K089</text>
<text x="173.60" y="587.90" font-size="10.9" textLength="5.58" lengthAdjust="spacingAndGlyphs" text-anchor="middle" font-weight="bold">2</text>
<text x="220.80" y="587.90" font-size="11.4" textLength="17.19" lengthAdjust="spacingAndGlyphs" text-anchor="middle">230</text>
<text x="268.40" y="587.90" font-size="11.4" textLength="24.05" lengthAdjust="spacingAndGlyphs" text-anchor="middle">(1)50</text>
<text x="268.40" y="603.90" font-size="11.4" textLength="24.05" lengthAdjust="spacingAndGlyphs" text-anchor="middle">(1)60</text>
<text x="314.60" y="587.90" font-size="11.4" textLength="5.73" lengthAdjust="spacingAndGlyphs" text-anchor="middle">5</text>
<text x="314.60" y="603.90" font-size="11.4" textLength="5.73" lengthAdjust="spacingAndGlyphs" text-anchor="middle">5</text>
<text x="362.40" y="587.90" font-size="11.4" textLength="17.19" lengthAdjust="spacingAndGlyphs" text-anchor="middle">180</text>
<text x="362.40" y="603.90" font-size="11.4" textLength="17.19" lengthAdjust="spacingAndGlyphs" text-anchor="middle">190</text>
<text x="409.60" y="587.90" font-size="11.4" textLength="20.05" lengthAdjust="spacingAndGlyphs" text-anchor="middle">0,79</text>
<text x="409.60" y="603.90" font-size="11.4" textLength="20.05" lengthAdjust="spacingAndGlyphs" text-anchor="middle">0,84</text>
<text x="457.00" y="587.90" font-size="11.4" textLength="17.19" lengthAdjust="spacingAndGlyphs" text-anchor="middle">600</text>
<text x="457.00" y="603.90" font-size="11.4" textLength="17.19" lengthAdjust="spacingAndGlyphs" text-anchor="middle">500</text>
<text x="504.70" y="587.90" font-size="11.4" textLength="22.91" lengthAdjust="spacingAndGlyphs" text-anchor="middle">1800</text>
<text x="504.70" y="603.90" font-size="11.4" textLength="22.91" lengthAdjust="spacingAndGlyphs" text-anchor="middle">2300</text>
<text x="551.30" y="587.90" font-size="11.4" textLength="11.46" lengthAdjust="spacingAndGlyphs" text-anchor="middle">59</text>
<text x="551.30" y="603.90" font-size="11.4" textLength="11.46" lengthAdjust="spacingAndGlyphs" text-anchor="middle">60</text>
<text x="599.00" y="587.90" font-size="11.4" textLength="11.46" lengthAdjust="spacingAndGlyphs" text-anchor="middle">50</text>
<text x="599.00" y="603.90" font-size="11.4" textLength="17.19" lengthAdjust="spacingAndGlyphs" text-anchor="middle">200</text>
<text x="644.50" y="587.90" font-size="11.4" textLength="11.46" lengthAdjust="spacingAndGlyphs" text-anchor="middle">45</text>
<text x="644.50" y="603.90" font-size="11.4" textLength="11.46" lengthAdjust="spacingAndGlyphs" text-anchor="middle">40</text>
<text x="693.40" y="587.90" font-size="11.4" textLength="14.32" lengthAdjust="spacingAndGlyphs" text-anchor="middle">3,4</text>
<text x="47.30" y="619.90" font-size="10.9" textLength="95.72" lengthAdjust="spacingAndGlyphs" font-weight="bold">RF2C-133/190 K097</text>
<text x="173.60" y="619.90" font-size="10.9" textLength="5.58" lengthAdjust="spacingAndGlyphs" text-anchor="middle" font-weight="bold">3</text>
<text x="220.80" y="619.90" font-size="11.4" textLength="17.19" lengthAdjust="spacingAndGlyphs" text-anchor="middle">230</text>
<text x="268.40" y="619.90" font-size="11.4" textLength="11.46" lengthAdjust="spacingAndGlyphs" text-anchor="middle">50</text>
<text x="268.40" y="635.90" font-size="11.4" textLength="11.46" lengthAdjust="spacingAndGlyphs" text-anchor="middle">60</text>
<text x="314.60" y="619.90" font-size="11.4" textLength="5.73" lengthAdjust="spacingAndGlyphs" text-anchor="middle">6</text>
<text x="314.60" y="635.90" font-size="11.4" textLength="5.73" lengthAdjust="spacingAndGlyphs" text-anchor="middle">6</text>
<text x="362.40" y="619.90" font-size="11.4" textLength="17.19" lengthAdjust="spacingAndGlyphs" text-anchor="middle">190</text>
<text x="362.40" y="635.90" font-size="11.4" textLength="17.19" lengthAdjust="spacingAndGlyphs" text-anchor="middle">205</text>
<text x="409.60" y="619.90" font-size="11.4" textLength="20.05" lengthAdjust="spacingAndGlyphs" text-anchor="middle">0,85</text>
<text x="409.60" y="635.90" font-size="11.4" textLength="20.05" lengthAdjust="spacingAndGlyphs" text-anchor="middle">0,95</text>
<text x="457.00" y="619.90" font-size="11.4" textLength="17.19" lengthAdjust="spacingAndGlyphs" text-anchor="middle">840</text>
<text x="457.00" y="635.90" font-size="11.4" textLength="17.19" lengthAdjust="spacingAndGlyphs" text-anchor="middle">700</text>
<text x="504.70" y="619.90" font-size="11.4" textLength="22.91" lengthAdjust="spacingAndGlyphs" text-anchor="middle">1250</text>
<text x="504.70" y="635.90" font-size="11.4" textLength="22.91" lengthAdjust="spacingAndGlyphs" text-anchor="middle">1800</text>
<text x="551.30" y="619.90" font-size="11.4" textLength="11.46" lengthAdjust="spacingAndGlyphs" text-anchor="middle">56</text>
<text x="551.30" y="635.90" font-size="11.4" textLength="11.46" lengthAdjust="spacingAndGlyphs" text-anchor="middle">56</text>
<text x="599.00" y="619.90" font-size="11.4" textLength="5.73" lengthAdjust="spacingAndGlyphs" text-anchor="middle">0</text>
<text x="599.00" y="635.90" font-size="11.4" textLength="17.19" lengthAdjust="spacingAndGlyphs" text-anchor="middle">100</text>
<text x="644.50" y="619.90" font-size="11.4" textLength="11.46" lengthAdjust="spacingAndGlyphs" text-anchor="middle">40</text>
<text x="644.50" y="635.90" font-size="11.4" textLength="11.46" lengthAdjust="spacingAndGlyphs" text-anchor="middle">40</text>
<text x="693.40" y="619.90" font-size="11.4" textLength="14.32" lengthAdjust="spacingAndGlyphs" text-anchor="middle">3,9</text>
<text x="47.30" y="651.90" font-size="10.9" textLength="95.72" lengthAdjust="spacingAndGlyphs" font-weight="bold">RF2C-146/180 K205</text>
<text x="173.60" y="651.90" font-size="10.9" textLength="5.58" lengthAdjust="spacingAndGlyphs" text-anchor="middle" font-weight="bold">4</text>
<text x="220.80" y="651.90" font-size="11.4" textLength="17.19" lengthAdjust="spacingAndGlyphs" text-anchor="middle">230</text>
<text x="268.40" y="651.90" font-size="11.4" textLength="11.46" lengthAdjust="spacingAndGlyphs" text-anchor="middle">50</text>
<text x="268.40" y="667.90" font-size="11.4" textLength="11.46" lengthAdjust="spacingAndGlyphs" text-anchor="middle">60</text>
<text x="314.60" y="651.90" font-size="11.4" textLength="5.73" lengthAdjust="spacingAndGlyphs" text-anchor="middle">8</text>
<text x="314.60" y="667.90" font-size="11.4" textLength="5.73" lengthAdjust="spacingAndGlyphs" text-anchor="middle">8</text>
<text x="362.40" y="651.90" font-size="11.4" textLength="17.19" lengthAdjust="spacingAndGlyphs" text-anchor="middle">310</text>
<text x="362.40" y="667.90" font-size="11.4" textLength="17.19" lengthAdjust="spacingAndGlyphs" text-anchor="middle">330</text>
<text x="409.60" y="651.90" font-size="11.4" textLength="20.05" lengthAdjust="spacingAndGlyphs" text-anchor="middle">1,35</text>
<text x="409.60" y="667.90" font-size="11.4" textLength="20.05" lengthAdjust="spacingAndGlyphs" text-anchor="middle">1,40</text>
<text x="457.00" y="651.90" font-size="11.4" textLength="17.19" lengthAdjust="spacingAndGlyphs" text-anchor="middle">950</text>
<text x="457.00" y="667.90" font-size="11.4" textLength="17.19" lengthAdjust="spacingAndGlyphs" text-anchor="middle">650</text>
<text x="504.70" y="651.90" font-size="11.4" textLength="22.91" lengthAdjust="spacingAndGlyphs" text-anchor="middle">1990</text>
<text x="504.70" y="667.90" font-size="11.4" textLength="22.91" lengthAdjust="spacingAndGlyphs" text-anchor="middle">2500</text>
<text x="551.30" y="651.90" font-size="11.4" textLength="11.46" lengthAdjust="spacingAndGlyphs" text-anchor="middle">70</text>
<text x="551.30" y="667.90" font-size="11.4" textLength="11.46" lengthAdjust="spacingAndGlyphs" text-anchor="middle">69</text>
<text x="599.00" y="651.90" font-size="11.4" textLength="17.19" lengthAdjust="spacingAndGlyphs" text-anchor="middle">200</text>
<text x="599.00" y="667.90" font-size="11.4" textLength="17.19" lengthAdjust="spacingAndGlyphs" text-anchor="middle">400</text>
<text x="644.50" y="651.90" font-size="11.4" textLength="11.46" lengthAdjust="spacingAndGlyphs" text-anchor="middle">40</text>
<text x="644.50" y="667.90" font-size="11.4" textLength="11.46" lengthAdjust="spacingAndGlyphs" text-anchor="middle">50</text>
<text x="693.40" y="651.90" font-size="11.4" textLength="14.32" lengthAdjust="spacingAndGlyphs" text-anchor="middle">4,1</text>
<text x="47.30" y="683.90" font-size="10.9" textLength="95.72" lengthAdjust="spacingAndGlyphs" font-weight="bold">RF4C-133/190 K109</text>
<text x="173.60" y="683.90" font-size="10.9" textLength="5.58" lengthAdjust="spacingAndGlyphs" text-anchor="middle" font-weight="bold">5</text>
<text x="220.80" y="683.90" font-size="11.4" textLength="17.19" lengthAdjust="spacingAndGlyphs" text-anchor="middle">230</text>
<text x="268.40" y="683.90" font-size="11.4" textLength="11.46" lengthAdjust="spacingAndGlyphs" text-anchor="middle">50</text>
<text x="268.40" y="699.90" font-size="11.4" textLength="11.46" lengthAdjust="spacingAndGlyphs" text-anchor="middle">60</text>
<text x="314.60" y="683.90" font-size="11.4" textLength="5.73" lengthAdjust="spacingAndGlyphs" text-anchor="middle">2</text>
<text x="314.60" y="699.90" font-size="11.4" textLength="5.73" lengthAdjust="spacingAndGlyphs" text-anchor="middle">2</text>
<text x="362.40" y="683.90" font-size="11.4" textLength="11.46" lengthAdjust="spacingAndGlyphs" text-anchor="middle">60</text>
<text x="362.40" y="699.90" font-size="11.4" textLength="11.46" lengthAdjust="spacingAndGlyphs" text-anchor="middle">70</text>
<text x="409.60" y="683.90" font-size="11.4" textLength="20.05" lengthAdjust="spacingAndGlyphs" text-anchor="middle">0,27</text>
<text x="409.60" y="699.90" font-size="11.4" textLength="20.05" lengthAdjust="spacingAndGlyphs" text-anchor="middle">0,32</text>
<text x="457.00" y="683.90" font-size="11.4" textLength="17.19" lengthAdjust="spacingAndGlyphs" text-anchor="middle">530</text>
<text x="457.00" y="699.90" font-size="11.4" textLength="17.19" lengthAdjust="spacingAndGlyphs" text-anchor="middle">500</text>
<text x="504.70" y="683.90" font-size="11.4" textLength="22.15" lengthAdjust="spacingAndGlyphs" text-anchor="middle">1150</text>
<text x="504.70" y="699.90" font-size="11.4" textLength="22.91" lengthAdjust="spacingAndGlyphs" text-anchor="middle">1000</text>
<text x="551.30" y="683.90" font-size="11.4" textLength="11.46" lengthAdjust="spacingAndGlyphs" text-anchor="middle">55</text>
<text x="551.30" y="699.90" font-size="11.4" textLength="11.46" lengthAdjust="spacingAndGlyphs" text-anchor="middle">53</text>
<text x="599.00" y="683.90" font-size="11.4" textLength="5.73" lengthAdjust="spacingAndGlyphs" text-anchor="middle">0</text>
<text x="599.00" y="699.90" font-size="11.4" textLength="5.73" lengthAdjust="spacingAndGlyphs" text-anchor="middle">0</text>
<text x="644.50" y="683.90" font-size="11.4" textLength="11.46" lengthAdjust="spacingAndGlyphs" text-anchor="middle">70</text>
<text x="644.50" y="699.90" font-size="11.4" textLength="11.46" lengthAdjust="spacingAndGlyphs" text-anchor="middle">65</text>
<text x="693.40" y="683.90" font-size="11.4" textLength="14.32" lengthAdjust="spacingAndGlyphs" text-anchor="middle">2,6</text>
<text x="47.30" y="715.90" font-size="10.9" textLength="95.72" lengthAdjust="spacingAndGlyphs" font-weight="bold">RF4C-133/190 K030</text>
<text x="173.60" y="715.90" font-size="10.9" textLength="5.58" lengthAdjust="spacingAndGlyphs" text-anchor="middle" font-weight="bold">6</text>
<text x="220.80" y="715.90" font-size="11.4" textLength="17.19" lengthAdjust="spacingAndGlyphs" text-anchor="middle">230</text>
<text x="268.40" y="715.90" font-size="11.4" textLength="11.46" lengthAdjust="spacingAndGlyphs" text-anchor="middle">50</text>
<text x="268.40" y="731.90" font-size="11.4" textLength="11.46" lengthAdjust="spacingAndGlyphs" text-anchor="middle">60</text>
<text x="314.60" y="715.90" font-size="11.4" textLength="5.73" lengthAdjust="spacingAndGlyphs" text-anchor="middle">2</text>
<text x="314.60" y="731.90" font-size="11.4" textLength="5.73" lengthAdjust="spacingAndGlyphs" text-anchor="middle">2</text>
<text x="362.40" y="715.90" font-size="11.4" textLength="11.46" lengthAdjust="spacingAndGlyphs" text-anchor="middle">73</text>
<text x="362.40" y="731.90" font-size="11.4" textLength="11.46" lengthAdjust="spacingAndGlyphs" text-anchor="middle">85</text>
<text x="409.60" y="715.90" font-size="11.4" textLength="20.05" lengthAdjust="spacingAndGlyphs" text-anchor="middle">0,37</text>
<text x="409.60" y="731.90" font-size="11.4" textLength="20.05" lengthAdjust="spacingAndGlyphs" text-anchor="middle">0,36</text>
<text x="457.00" y="715.90" font-size="11.4" textLength="17.19" lengthAdjust="spacingAndGlyphs" text-anchor="middle">700</text>
<text x="457.00" y="731.90" font-size="11.4" textLength="17.19" lengthAdjust="spacingAndGlyphs" text-anchor="middle">690</text>
<text x="504.70" y="715.90" font-size="11.4" textLength="22.91" lengthAdjust="spacingAndGlyphs" text-anchor="middle">1025</text>
<text x="504.70" y="731.90" font-size="11.4" textLength="22.91" lengthAdjust="spacingAndGlyphs" text-anchor="middle">1000</text>
<text x="551.30" y="715.90" font-size="11.4" textLength="11.46" lengthAdjust="spacingAndGlyphs" text-anchor="middle">54</text>
<text x="551.30" y="731.90" font-size="11.4" textLength="11.46" lengthAdjust="spacingAndGlyphs" text-anchor="middle">53</text>
<text x="599.00" y="715.90" font-size="11.4" textLength="5.73" lengthAdjust="spacingAndGlyphs" text-anchor="middle">0</text>
<text x="599.00" y="731.90" font-size="11.4" textLength="5.73" lengthAdjust="spacingAndGlyphs" text-anchor="middle">0</text>
<text x="644.50" y="715.90" font-size="11.4" textLength="11.46" lengthAdjust="spacingAndGlyphs" text-anchor="middle">55</text>
<text x="644.50" y="731.90" font-size="11.4" textLength="11.46" lengthAdjust="spacingAndGlyphs" text-anchor="middle">45</text>
<text x="693.40" y="715.90" font-size="11.4" textLength="14.32" lengthAdjust="spacingAndGlyphs" text-anchor="middle">2,8</text>
<text x="47.30" y="747.90" font-size="10.9" textLength="95.72" lengthAdjust="spacingAndGlyphs" font-weight="bold">RF4C-133/190 K040</text>
<text x="173.60" y="747.90" font-size="10.9" textLength="5.58" lengthAdjust="spacingAndGlyphs" text-anchor="middle" font-weight="bold">7</text>
<text x="220.80" y="747.90" font-size="11.4" textLength="17.19" lengthAdjust="spacingAndGlyphs" text-anchor="middle">230</text>
<text x="268.40" y="747.90" font-size="11.4" textLength="11.46" lengthAdjust="spacingAndGlyphs" text-anchor="middle">50</text>
<text x="268.40" y="763.90" font-size="11.4" textLength="11.46" lengthAdjust="spacingAndGlyphs" text-anchor="middle">60</text>
<text x="314.60" y="747.90" font-size="11.4" textLength="14.32" lengthAdjust="spacingAndGlyphs" text-anchor="middle">2,5</text>
<text x="314.60" y="763.90" font-size="11.4" textLength="14.32" lengthAdjust="spacingAndGlyphs" text-anchor="middle">2,5</text>
<text x="362.40" y="747.90" font-size="11.4" textLength="11.46" lengthAdjust="spacingAndGlyphs" text-anchor="middle">85</text>
<text x="362.40" y="763.90" font-size="11.4" textLength="11.46" lengthAdjust="spacingAndGlyphs" text-anchor="middle">85</text>
<text x="409.60" y="747.90" font-size="11.4" textLength="20.05" lengthAdjust="spacingAndGlyphs" text-anchor="middle">0,38</text>
<text x="409.60" y="763.90" font-size="11.4" textLength="20.05" lengthAdjust="spacingAndGlyphs" text-anchor="middle">0,37</text>
<text x="457.00" y="747.90" font-size="11.4" textLength="17.19" lengthAdjust="spacingAndGlyphs" text-anchor="middle">810</text>
<text x="457.00" y="763.90" font-size="11.4" textLength="17.19" lengthAdjust="spacingAndGlyphs" text-anchor="middle">850</text>
<text x="504.70" y="747.90" font-size="11.4" textLength="22.91" lengthAdjust="spacingAndGlyphs" text-anchor="middle">1230</text>
<text x="504.70" y="763.90" font-size="11.4" textLength="22.15" lengthAdjust="spacingAndGlyphs" text-anchor="middle">1100</text>
<text x="551.30" y="747.90" font-size="11.4" textLength="11.46" lengthAdjust="spacingAndGlyphs" text-anchor="middle">55</text>
<text x="551.30" y="763.90" font-size="11.4" textLength="11.46" lengthAdjust="spacingAndGlyphs" text-anchor="middle">53</text>
<text x="599.00" y="747.90" font-size="11.4" textLength="5.73" lengthAdjust="spacingAndGlyphs" text-anchor="middle">0</text>
<text x="599.00" y="763.90" font-size="11.4" textLength="5.73" lengthAdjust="spacingAndGlyphs" text-anchor="middle">0</text>
<text x="644.50" y="747.90" font-size="11.4" textLength="11.46" lengthAdjust="spacingAndGlyphs" text-anchor="middle">70</text>
<text x="644.50" y="763.90" font-size="11.4" textLength="11.46" lengthAdjust="spacingAndGlyphs" text-anchor="middle">55</text>
<text x="693.40" y="747.90" font-size="11.4" textLength="14.32" lengthAdjust="spacingAndGlyphs" text-anchor="middle">3,2</text>
<text x="47.30" y="779.90" font-size="10.9" textLength="95.72" lengthAdjust="spacingAndGlyphs" font-weight="bold">RF4C-146/180 K040</text>
<text x="173.60" y="779.90" font-size="10.9" textLength="5.58" lengthAdjust="spacingAndGlyphs" text-anchor="middle" font-weight="bold">8</text>
<text x="220.80" y="779.90" font-size="11.4" textLength="17.19" lengthAdjust="spacingAndGlyphs" text-anchor="middle">230</text>
<text x="268.40" y="779.90" font-size="11.4" textLength="11.46" lengthAdjust="spacingAndGlyphs" text-anchor="middle">50</text>
<text x="268.40" y="795.90" font-size="11.4" textLength="11.46" lengthAdjust="spacingAndGlyphs" text-anchor="middle">60</text>
<text x="314.60" y="779.90" font-size="11.4" textLength="14.32" lengthAdjust="spacingAndGlyphs" text-anchor="middle">2,5</text>
<text x="314.60" y="795.90" font-size="11.4" textLength="14.32" lengthAdjust="spacingAndGlyphs" text-anchor="middle">2,5</text>
<text x="362.40" y="779.90" font-size="11.4" textLength="17.19" lengthAdjust="spacingAndGlyphs" text-anchor="middle">100</text>
<text x="362.40" y="795.90" font-size="11.4" textLength="17.19" lengthAdjust="spacingAndGlyphs" text-anchor="middle">120</text>
<text x="409.60" y="779.90" font-size="11.4" textLength="20.05" lengthAdjust="spacingAndGlyphs" text-anchor="middle">0,44</text>
<text x="409.60" y="795.90" font-size="11.4" textLength="20.05" lengthAdjust="spacingAndGlyphs" text-anchor="middle">0,53</text>
<text x="457.00" y="779.90" font-size="11.4" textLength="17.19" lengthAdjust="spacingAndGlyphs" text-anchor="middle">825</text>
<text x="457.00" y="795.90" font-size="11.4" textLength="17.19" lengthAdjust="spacingAndGlyphs" text-anchor="middle">760</text>
<text x="504.70" y="779.90" font-size="11.4" textLength="22.91" lengthAdjust="spacingAndGlyphs" text-anchor="middle">1050</text>
<text x="504.70" y="795.90" font-size="11.4" textLength="22.91" lengthAdjust="spacingAndGlyphs" text-anchor="middle">1025</text>
<text x="551.30" y="779.90" font-size="11.4" textLength="11.46" lengthAdjust="spacingAndGlyphs" text-anchor="middle">56</text>
<text x="551.30" y="795.90" font-size="11.4" textLength="11.46" lengthAdjust="spacingAndGlyphs" text-anchor="middle">55</text>
<text x="599.00" y="779.90" font-size="11.4" textLength="5.73" lengthAdjust="spacingAndGlyphs" text-anchor="middle">0</text>
<text x="599.00" y="795.90" font-size="11.4" textLength="5.73" lengthAdjust="spacingAndGlyphs" text-anchor="middle">0</text>
<text x="644.50" y="779.90" font-size="11.4" textLength="11.46" lengthAdjust="spacingAndGlyphs" text-anchor="middle">60</text>
<text x="644.50" y="795.90" font-size="11.4" textLength="11.46" lengthAdjust="spacingAndGlyphs" text-anchor="middle">60</text>
<text x="693.40" y="779.90" font-size="11.4" textLength="14.32" lengthAdjust="spacingAndGlyphs" text-anchor="middle">3,2</text>
<text x="47.30" y="811.90" font-size="10.9" textLength="95.72" lengthAdjust="spacingAndGlyphs" font-weight="bold">RF4C-160/150 K048</text>
<text x="173.60" y="811.90" font-size="10.9" textLength="5.58" lengthAdjust="spacingAndGlyphs" text-anchor="middle" font-weight="bold">9</text>
<text x="220.80" y="811.90" font-size="11.4" textLength="17.19" lengthAdjust="spacingAndGlyphs" text-anchor="middle">230</text>
<text x="268.40" y="811.90" font-size="11.4" textLength="11.46" lengthAdjust="spacingAndGlyphs" text-anchor="middle">50</text>
<text x="268.40" y="827.90" font-size="11.4" textLength="11.46" lengthAdjust="spacingAndGlyphs" text-anchor="middle">60</text>
<text x="314.60" y="811.90" font-size="11.4" textLength="5.73" lengthAdjust="spacingAndGlyphs" text-anchor="middle">3</text>
<text x="314.60" y="827.90" font-size="11.4" textLength="5.73" lengthAdjust="spacingAndGlyphs" text-anchor="middle">3</text>
<text x="362.40" y="811.90" font-size="11.4" textLength="17.19" lengthAdjust="spacingAndGlyphs" text-anchor="middle">120</text>
<text x="362.40" y="827.90" font-size="11.4" textLength="17.19" lengthAdjust="spacingAndGlyphs" text-anchor="middle">140</text>
<text x="409.60" y="811.90" font-size="11.4" textLength="20.05" lengthAdjust="spacingAndGlyphs" text-anchor="middle">0,55</text>
<text x="409.60" y="827.90" font-size="11.4" textLength="20.05" lengthAdjust="spacingAndGlyphs" text-anchor="middle">0,61</text>
<text x="457.00" y="811.90" font-size="11.4" textLength="17.19" lengthAdjust="spacingAndGlyphs" text-anchor="middle">825</text>
<text x="457.00" y="827.90" font-size="11.4" textLength="17.19" lengthAdjust="spacingAndGlyphs" text-anchor="middle">720</text>
<text x="504.70" y="811.90" font-size="11.4" textLength="22.15" lengthAdjust="spacingAndGlyphs" text-anchor="middle">1150</text>
<text x="504.70" y="827.90" font-size="11.4" textLength="22.91" lengthAdjust="spacingAndGlyphs" text-anchor="middle">1225</text>
<text x="551.30" y="811.90" font-size="11.4" textLength="11.46" lengthAdjust="spacingAndGlyphs" text-anchor="middle">58</text>
<text x="551.30" y="827.90" font-size="11.4" textLength="11.46" lengthAdjust="spacingAndGlyphs" text-anchor="middle">58</text>
<text x="599.00" y="811.90" font-size="11.4" textLength="5.73" lengthAdjust="spacingAndGlyphs" text-anchor="middle">0</text>
<text x="599.00" y="827.90" font-size="11.4" textLength="11.46" lengthAdjust="spacingAndGlyphs" text-anchor="middle">50</text>
<text x="644.50" y="811.90" font-size="11.4" textLength="11.46" lengthAdjust="spacingAndGlyphs" text-anchor="middle">55</text>
<text x="644.50" y="827.90" font-size="11.4" textLength="11.46" lengthAdjust="spacingAndGlyphs" text-anchor="middle">45</text>
<text x="693.40" y="811.90" font-size="11.4" textLength="14.32" lengthAdjust="spacingAndGlyphs" text-anchor="middle">3,7</text>
<text x="47.30" y="843.90" font-size="10.9" textLength="95.72" lengthAdjust="spacingAndGlyphs" font-weight="bold">RF4C-180/184 K107</text>
<text x="173.60" y="843.90" font-size="10.9" textLength="11.15" lengthAdjust="spacingAndGlyphs" text-anchor="middle" font-weight="bold">10</text>
<text x="220.80" y="843.90" font-size="11.4" textLength="17.19" lengthAdjust="spacingAndGlyphs" text-anchor="middle">230</text>
<text x="268.40" y="843.90" font-size="11.4" textLength="11.46" lengthAdjust="spacingAndGlyphs" text-anchor="middle">50</text>
<text x="268.40" y="859.90" font-size="11.4" textLength="11.46" lengthAdjust="spacingAndGlyphs" text-anchor="middle">60</text>
<text x="314.60" y="843.90" font-size="11.4" textLength="5.73" lengthAdjust="spacingAndGlyphs" text-anchor="middle">5</text>
<text x="314.60" y="859.90" font-size="11.4" textLength="5.73" lengthAdjust="spacingAndGlyphs" text-anchor="middle">5</text>
<text x="362.40" y="843.90" font-size="11.4" textLength="17.19" lengthAdjust="spacingAndGlyphs" text-anchor="middle">200</text>
<text x="362.40" y="859.90" font-size="11.4" textLength="17.19" lengthAdjust="spacingAndGlyphs" text-anchor="middle">250</text>
<text x="409.60" y="843.90" font-size="11.4" textLength="20.05" lengthAdjust="spacingAndGlyphs" text-anchor="middle">0,90</text>
<text x="409.60" y="859.90" font-size="11.4" textLength="20.05" lengthAdjust="spacingAndGlyphs" text-anchor="middle">1,10</text>
<text x="457.00" y="843.90" font-size="11.4" textLength="22.91" lengthAdjust="spacingAndGlyphs" text-anchor="middle">1250</text>
<text x="457.00" y="859.90" font-size="11.4" textLength="22.91" lengthAdjust="spacingAndGlyphs" text-anchor="middle">1275</text>
<text x="504.70" y="843.90" font-size="11.4" textLength="22.91" lengthAdjust="spacingAndGlyphs" text-anchor="middle">1250</text>
<text x="504.70" y="859.90" font-size="11.4" textLength="22.91" lengthAdjust="spacingAndGlyphs" text-anchor="middle">1350</text>
<text x="551.30" y="843.90" font-size="11.4" textLength="11.46" lengthAdjust="spacingAndGlyphs" text-anchor="middle">60</text>
<text x="551.30" y="859.90" font-size="11.4" textLength="11.46" lengthAdjust="spacingAndGlyphs" text-anchor="middle">61</text>
<text x="599.00" y="843.90" font-size="11.4" textLength="11.46" lengthAdjust="spacingAndGlyphs" text-anchor="middle">50</text>
<text x="599.00" y="859.90" font-size="11.4" textLength="17.19" lengthAdjust="spacingAndGlyphs" text-anchor="middle">100</text>
<text x="644.50" y="843.90" font-size="11.4" textLength="11.46" lengthAdjust="spacingAndGlyphs" text-anchor="middle">45</text>
<text x="644.50" y="859.90" font-size="11.4" textLength="11.46" lengthAdjust="spacingAndGlyphs" text-anchor="middle">45</text>
<text x="693.40" y="843.90" font-size="11.4" textLength="14.32" lengthAdjust="spacingAndGlyphs" text-anchor="middle">5,0</text>
<path d="M42.7 544.85H715.8M42.7 576.85H715.8M42.7 608.85H715.8M42.7 640.85H715.8M42.7 672.85H715.8M42.7 704.85H715.8M42.7 736.85H715.8M42.7 768.85H715.8M42.7 800.85H715.8M42.7 832.85H715.8M42.7 864.85H715.8" stroke="#2d90d0" stroke-width="1.7" fill="none"/>
</svg>
</body>
</html>
